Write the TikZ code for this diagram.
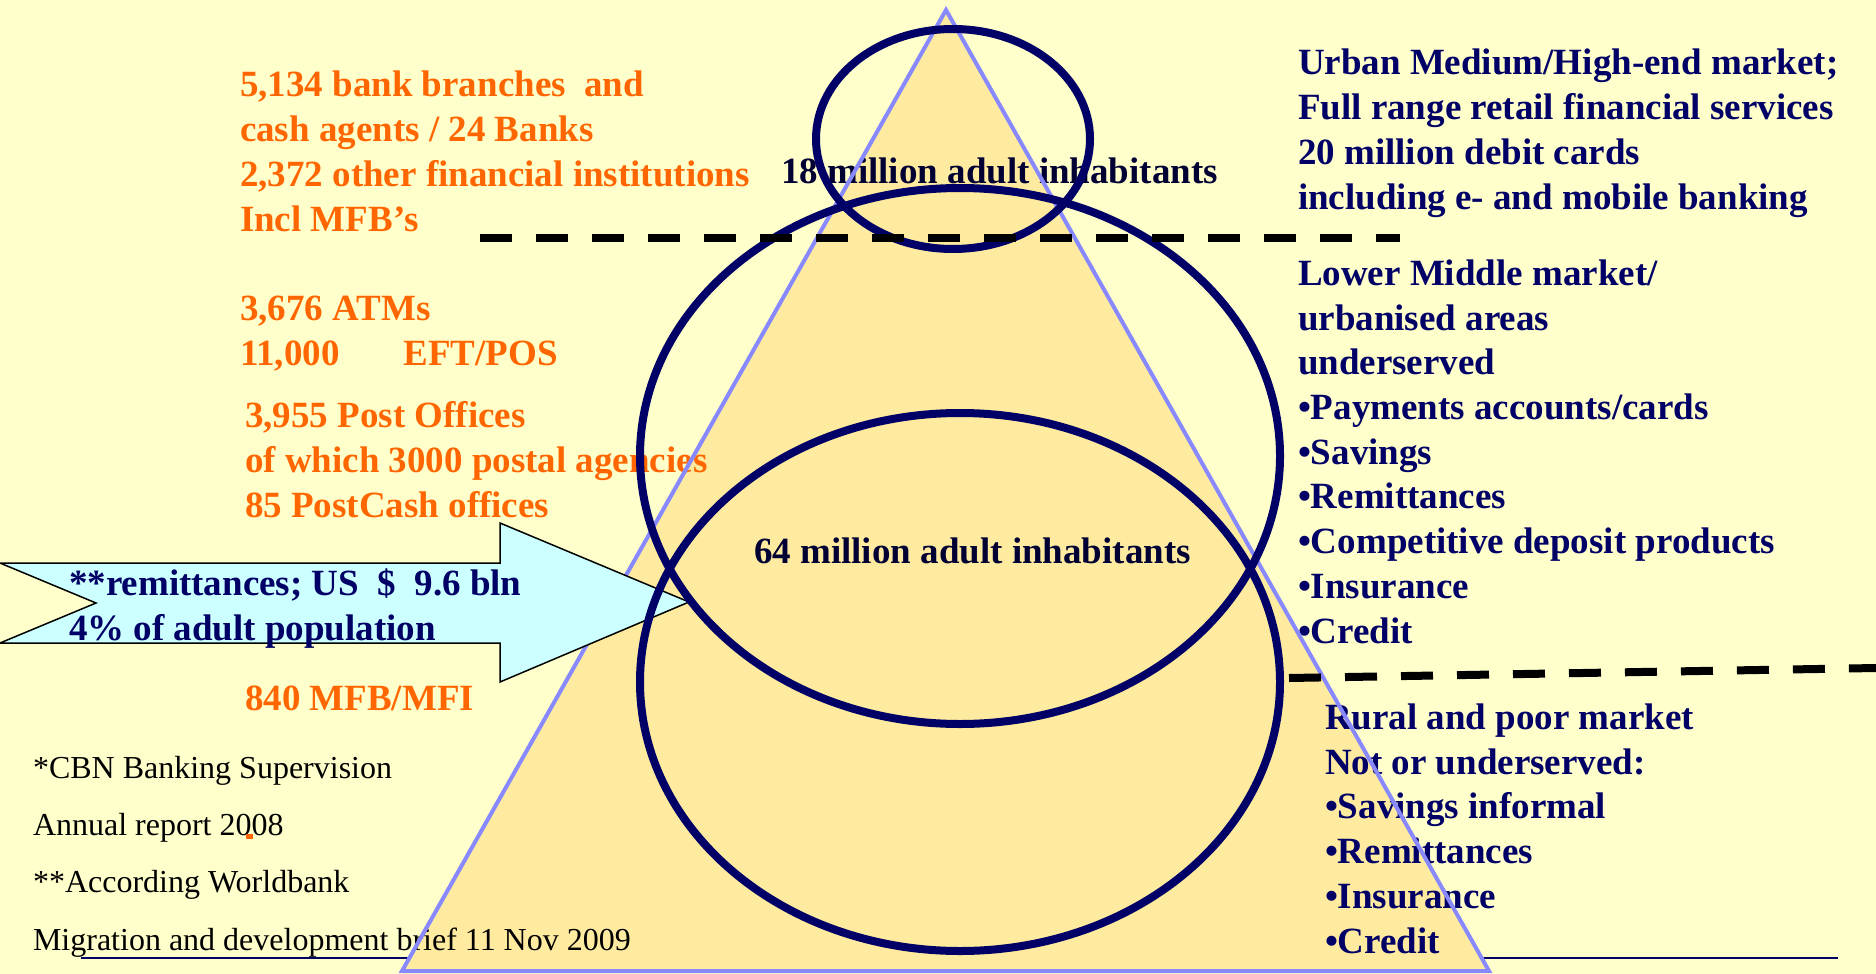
\documentclass[tikz,border=0pt]{standalone}
\usepackage{fontspec}
\setmainfont{Liberation Serif}
\definecolor{bgc}{HTML}{FFFFCC}
\definecolor{trifill}{HTML}{FFEBA0}
\definecolor{triedge}{HTML}{8888FF}
\definecolor{navyc}{HTML}{000066}
\definecolor{orangec}{HTML}{FF6600}
\definecolor{arrowc}{HTML}{CCFFFF}
\definecolor{darktext}{HTML}{000033}
\begin{document}
\begin{tikzpicture}[x=1pt,y=-1pt,
  txtbase/.style={anchor=base west, inner sep=0pt, outer sep=0pt, align=left},
  orangetxt/.style={txtbase, text=orangec, font=\fontsize{37}{44.7}\selectfont\bfseries},
  navytxt/.style={txtbase, text=navyc, font=\fontsize{37}{44.7}\selectfont\bfseries},
  darktxt/.style={txtbase, text=darktext, font=\fontsize{37}{45}\selectfont\bfseries},
  notetxt/.style={txtbase, text=black, font=\fontsize{32}{57.3}\selectfont},
  ringline/.style={draw=navyc, line width=8pt},
  dashline/.style={draw=black, line width=8pt, dash pattern=on 32pt off 24pt}]
\useasboundingbox (0,0) rectangle (1876,974);
\fill[bgc] (0,0) rectangle (1876,974);
% thin bottom line
\coordinate (ul1) at (81,958);
\coordinate (ul2) at (1838,958);
\draw[navyc, line width=2pt] (ul1) -- (ul2);
% triangle
\coordinate (apex) at (946,10);
\coordinate (bl) at (402,971);
\coordinate (br) at (1489,971);
\fill[trifill] (apex) -- (bl) -- (br) -- cycle;
% texts (anchored at the baseline of the last line)
\node[orangetxt] (o1) at (240,231) {5,134 bank branches\ \ and\\cash agents / 24 Banks\\2,372 other financial institutions\\Incl MFB’s};
\node[orangetxt] (o2) at (240,365) {3,676 ATMs\\11,000\hspace{64pt}EFT/POS};
\node[orangetxt] (o3) at (245,517) {3,955 Post Offices\\of which 3000 postal agencies\\85 PostCash offices};
\node[orangetxt] (o4) at (245,710) {840 MFB/MFI};
\node[darktxt] (m18) at (781,183) {18 million adult inhabitants};
\node[darktxt] (m64) at (754,563) {64 million adult inhabitants};
\node[navytxt] (ra) at (1298,209) {Urban Medium/High-end market;\\Full range retail financial services\\20 million debit cards\\including e- and mobile banking};
\node[navytxt] (rb) at (1298,643) {Lower Middle market/\\urbanised areas\\underserved\\•Payments accounts/cards\\•Savings\\•Remittances\\•Competitive deposit products\\•Insurance\\•Credit};
\node[navytxt] (rc) at (1325,953) {Rural and poor market\\Not or underserved:\\•Savings informal\\•Remittances\\•Insurance\\•Credit};
\node[notetxt] (n1) at (33,950) {*CBN Banking Supervision\\Annual report 2008\\**According Worldbank\\Migration and development brief 11 Nov 2009};
\fill[orangec] (246,834) rectangle (253,839);
% triangle edge
\draw[triedge, line width=4pt, line join=miter] (apex) -- (bl) -- (br) -- cycle;
% arrow
\draw[fill=arrowc, draw=black, line width=1.5pt, line join=miter]
  (0,563) -- (500,563) -- (500,523) -- (689,602) -- (500,682) -- (500,643) -- (0,643) -- (96,603) -- cycle;
\node[darktxt, text=navyc] (arr) at (69,640) {**remittances; US\ \ \$\ \ 9.6 bln\\4\% of adult population};
% ellipses
\draw[ringline] (953,139) ellipse [x radius=137, y radius=110];
\draw[ringline] (960,456) ellipse [x radius=320, y radius=268];
\draw[ringline] (960,682) ellipse [x radius=320, y radius=269];
% dashed lines
\coordinate (d1a) at (480,238);
\coordinate (d1b) at (1400,238);
\draw[dashline] (d1a) -- (d1b);
\coordinate (d2a) at (1289,678);
\coordinate (d2b) at (1876,668);
\draw[dashline] (d2a) -- (d2b);
\end{tikzpicture}
\end{document}
